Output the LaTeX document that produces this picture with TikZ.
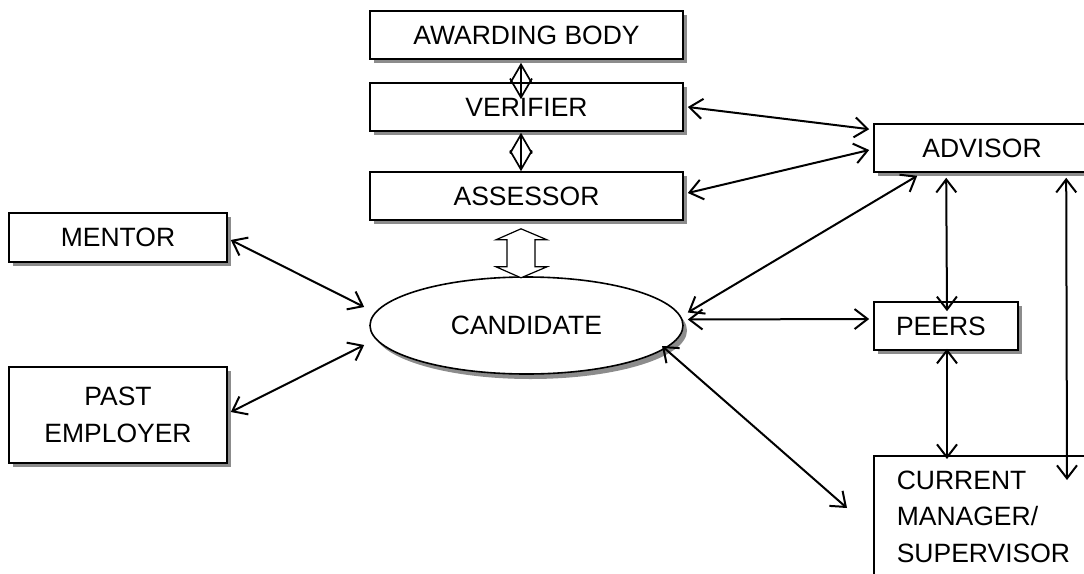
\documentclass[tikz,border=0pt]{standalone}
\usepackage{fontspec}
\setmainfont{Liberation Sans}
\usetikzlibrary{arrows.meta,shapes.geometric,shadows,calc}
\begin{document}
\begin{tikzpicture}[x=1pt,y=-1pt,
  every node/.style={font=\fontsize{26.5}{36.5}\selectfont},
  box/.style={draw=black, line width=1.6pt, fill=white, rectangle, inner sep=0pt,
    drop shadow={shadow xshift=4pt, shadow yshift=-4pt, fill=gray!90, opacity=1}},
  ell/.style={draw=black, line width=1.6pt, fill=white, ellipse, inner sep=0pt,
    drop shadow={shadow xshift=4pt, shadow yshift=-5pt, fill=gray!90, opacity=1}},
  conn/.style={line width=2pt, {Straight Barb[length=13pt,width=20pt,line width=2pt]}-{Straight Barb[length=13pt,width=20pt,line width=2pt]}},
  vconn/.style={line width=1.7pt, {Straight Barb[length=19pt,width=22pt,line width=1.7pt]}-{Straight Barb[length=19pt,width=22pt,line width=1.7pt]}}
]
\useasboundingbox (0,0) rectangle (1084,573);
\clip (0,0) rectangle (1084,573);

% nodes
\node[box, minimum width=313pt, minimum height=48pt] (award) at (526.5,35) {AWARDING BODY};
\node[box, minimum width=313pt, minimum height=48pt] (verif) at (526.5,107) {VERIFIER};
\node[box, minimum width=313pt, minimum height=48pt] (assess) at (526.5,196) {ASSESSOR};
\node[box, minimum width=218pt, minimum height=49pt] (mentor) at (118,237.5) {MENTOR};
\node[box, minimum width=218pt, minimum height=96pt, align=center] (past) at (118,415) {PAST\\EMPLOYER};
\node[ell, minimum width=313pt, minimum height=97pt] (cand) at (526.5,325.5) {CANDIDATE};
\node[box, minimum width=216pt, minimum height=48pt] (advisor) at (982,148) {ADVISOR};
\node[box, minimum width=144pt, minimum height=48pt, text width=100pt, align=left, inner xsep=22pt] (peers) at (946,326) {PEERS};
\node[box, anchor=north west, text width=185pt, align=left, inner xsep=23pt, inner ysep=15pt, text depth=110pt] (current) at (873,455) {CURRENT\\MANAGER/\\SUPERVISOR};

% hollow double arrow between assessor and candidate
\coordinate (hd) at ($(assess.south)+(-5.5,0)$);
\draw[line width=1.2pt, fill=white] ($(hd)+(0,8)$) -- ++(26,11) -- ++(-12,0) -- ++(0,27) -- ++(12,0)
  -- ++(-26,11) -- ++(-25,-11) -- ++(11,0) -- ++(0,-27) -- ++(-11,0) -- cycle;

% vertical connectors in the stack
\draw[vconn] ($(award.south)+(-5.5,3)$) -- ($(verif.north)+(-5.5,17)$);
\draw[vconn] ($(verif.south)+(-5.5,1)$) -- ($(assess.north)+(-5.5,0)$);

% connectors
\draw[conn] ($(verif.east)+(4,0)$) -- ($(advisor.north west)+(-4,6)$);
\draw[conn] ($(assess.east)+(4,-3)$) -- ($(advisor.west)+(-4,2)$);
\draw[conn] ($(cand.east)+(4,-13)$) -- ($(advisor.south west)+(44,3)$);
\draw[conn] ($(cand.east)+(4,-6)$) -- ($(peers.west)+(-4,-7)$);
\draw[conn] ($(cand.center)+(135.5,20.5)$) -- ($(current.north west)+(-26,53)$);
\draw[conn] ($(advisor.south west)+(73,5)$) -- ($(peers.north)+(1,10)$);
\draw[conn] ($(peers.south)+(1,-2)$) -- ($(current.north west)+(74,4)$);
\draw[conn] ($(advisor.south west)+(193,5)$) -- ($(current.north west)+(194,25)$);
\draw[conn] ($(mentor.east)+(3,2.5)$) -- ($(cand.west)+(-5,-18.5)$);
\draw[conn] ($(past.east)+(3,-3)$) -- ($(cand.west)+(-5,19.5)$);
\end{tikzpicture}
\end{document}
